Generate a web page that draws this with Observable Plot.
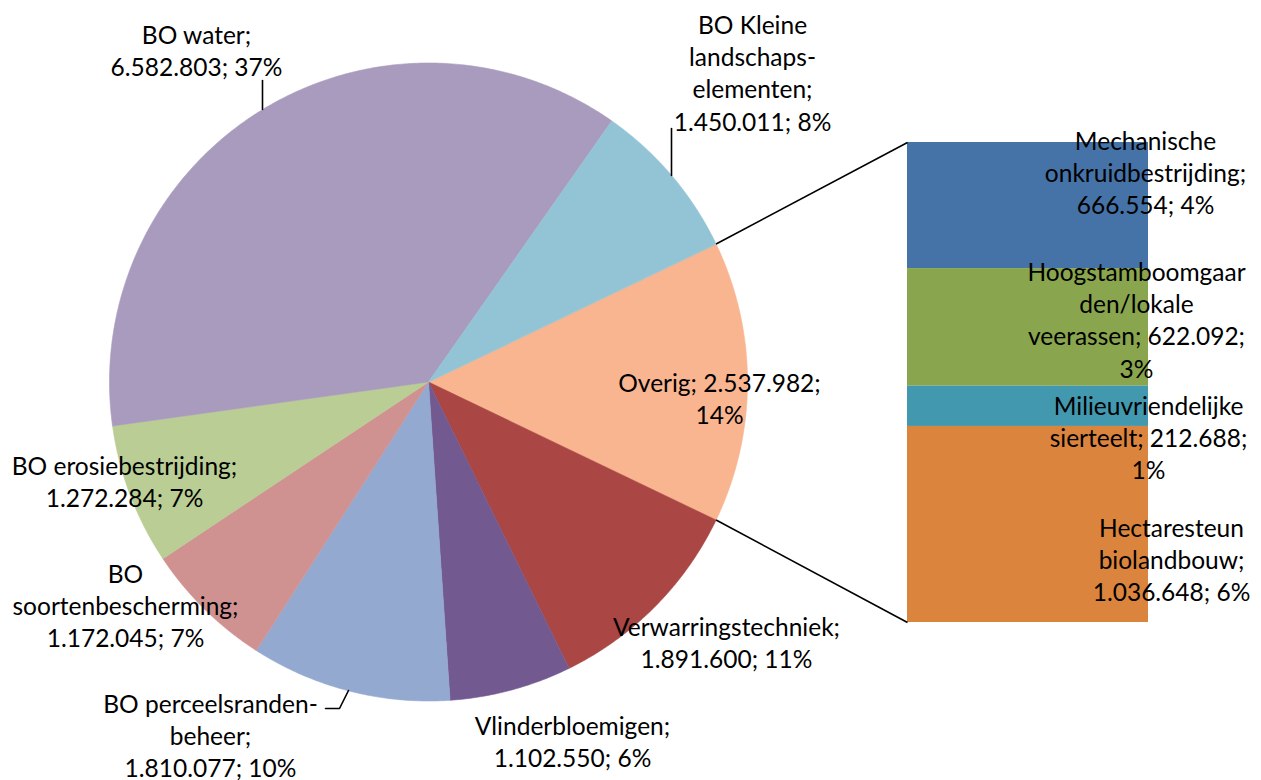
<!DOCTYPE html>
<html><head><meta charset="utf-8">
<script src="https://cdn.jsdelivr.net/npm/d3@7"></script>
<script src="https://cdn.jsdelivr.net/npm/@observablehq/plot@0.6"></script>
<style>html,body{margin:0;padding:0;background:#fff;} #chart svg{display:block}</style>
</head><body><div id="chart"></div>
<script>
// ---- data (pie, clockwise starting with the exploded "Overig" slice) ----
const pieCategories = ["Overig", "Verwarringstechniek", "Vlinderbloemigen", "BO perceelsranden-beheer",
  "BO soortenbescherming", "BO erosiebestrijding", "BO water", "BO Kleine landschaps-elementen"];
const pieValues = [2537982, 1891600, 1102550, 1810077, 1172045, 1272284, 6582803, 1450011];
const pieColors = ["#F9B590", "#AA4644", "#725990", "#94A9D0", "#D09291", "#B9CD94", "#A99BBD", "#93C4D5"];
const pieLabelTemplates = [
  "Overig; {v};\n{p}",
  "Verwarringstechniek;\n{v}; {p}",
  "Vlinderbloemigen;\n{v}; {p}",
  "BO perceelsranden-\nbeheer;\n{v}; {p}",
  "BO\nsoortenbescherming;\n{v}; {p}",
  "BO erosiebestrijding;\n{v}; {p}",
  "BO water;\n{v}; {p}",
  "BO Kleine\nlandschaps-\nelementen;\n{v}; {p}"
];
// ---- data (bar: breakdown of "Overig", top to bottom) ----
const barCategories = ["Mechanische onkruidbestrijding", "Hoogstamboomgaarden/lokale veerassen",
  "Milieuvriendelijke sierteelt", "Hectaresteun biolandbouw"];
const barValues = [666554, 622092, 212688, 1036648];
const barColors = ["#4572A7", "#89A54E", "#4198AF", "#DB843D"];
const barLabelTemplates = [
  "Mechanische\nonkruidbestrijding;\n{v}; {p}",
  "Hoogstamboomgaar\nden/lokale\nveerassen; {v};\n{p}",
  "Milieuvriendelijke\nsierteelt; {v};\n{p}",
  "Hectaresteun\nbiolandbouw;\n{v}; {p}"
];

// ---- layout ----
const W = 1261, H = 780;
const CX = 428, CY = 381.5, R = 319;
const BAR = {x1: 907, x2: 1148, top: 142, bottom: 622};
const FONT = "Lato, 'Noto Sans', sans-serif";
const FS = 24.5, LH = 32.3 / 24.5;
const pieLabelPos = [[719, 397], [726, 641], [572, 740], [210, 734], [125, 604], [124, 480], [196, 49], [752, 71.5]];
const barLabelPos = [[1145, 171], [1136, 318.5], [1148, 436], [1171, 558]];
const leaders = [
  [[262, 80], [262, 109]],
  [[671, 128], [671, 175]],
  [[325, 708], [339, 708], [348, 690]]
];

const total = d3.sum(pieValues);
const nf = d3.formatLocale({decimal: ",", thousands: ".", grouping: [3], currency: ["€", ""]}).format(",d");
const fmt = (tpl, v) => tpl.replace("{v}", nf(v)).replace("{p}", Math.round(v / total * 100) + "%");

const overigAngle = pieValues[0] / total * 2 * Math.PI;
const a0 = Math.PI / 2 - overigAngle / 2;
const arcs = d3.pie().sort(null).startAngle(a0).endAngle(a0 + 2 * Math.PI)(pieValues);
const pt = a => [CX + R * Math.sin(a), CY - R * Math.cos(a)];

const sliceMarks = arcs.map((arc, i) => {
  const n = Math.max(2, Math.ceil((arc.endAngle - arc.startAngle) / 0.01));
  const pts = [[CX, CY]];
  for (let k = 0; k <= n; k++) pts.push(pt(arc.startAngle + (arc.endAngle - arc.startAngle) * k / n));
  return Plot.line(pts, {x: d => d[0], y: d => d[1], fill: pieColors[i], stroke: pieColors[i], strokeWidth: 0.6, curve: "linear-closed"});
});

const barTotal = d3.sum(barValues);
const barRows = [];
let cum = 0;
barValues.forEach((v, i) => {
  barRows.push({cat: barCategories[i], c0: cum, c1: cum + v, color: barColors[i]});
  cum += v;
});
const by = c => BAR.top + (BAR.bottom - BAR.top) * c / barTotal;

const connectors = [
  {p: pt(arcs[0].startAngle), q: [BAR.x1, BAR.top]},
  {p: pt(arcs[0].endAngle), q: [BAR.x1, BAR.bottom]}
];

const labels = [
  ...pieValues.map((v, i) => ({text: fmt(pieLabelTemplates[i], v), x: pieLabelPos[i][0], y: pieLabelPos[i][1]})),
  ...barValues.map((v, i) => ({text: fmt(barLabelTemplates[i], v), x: barLabelPos[i][0], y: barLabelPos[i][1]}))
];

const chart = Plot.plot({
  width: W, height: H, margin: 0,
  x: {domain: [0, W], range: [0, W], axis: null},
  y: {domain: [0, H], range: [0, H], axis: null},
  style: {background: "white", overflow: "visible"},
  marks: [
    ...sliceMarks,
    Plot.rect(barRows, {x1: BAR.x1, x2: BAR.x2, y1: d => by(d.c0), y2: d => by(d.c1), fill: d => d.color}),
    Plot.link(connectors, {x1: d => d.p[0], y1: d => d.p[1], x2: d => d.q[0], y2: d => d.q[1], stroke: "black", strokeWidth: 1.6}),
    ...leaders.map(L => Plot.line(L, {x: d => d[0], y: d => d[1], stroke: "black", strokeWidth: 1.6})),
    Plot.text(labels, {x: "x", y: "y", text: "text", textAnchor: "middle", lineAnchor: "middle",
      lineHeight: LH, fontSize: FS, fontFamily: FONT, fill: "black"})
  ],
  color: {type: "identity"}
});
document.getElementById("chart").appendChild(chart);
</script>
</body></html>
